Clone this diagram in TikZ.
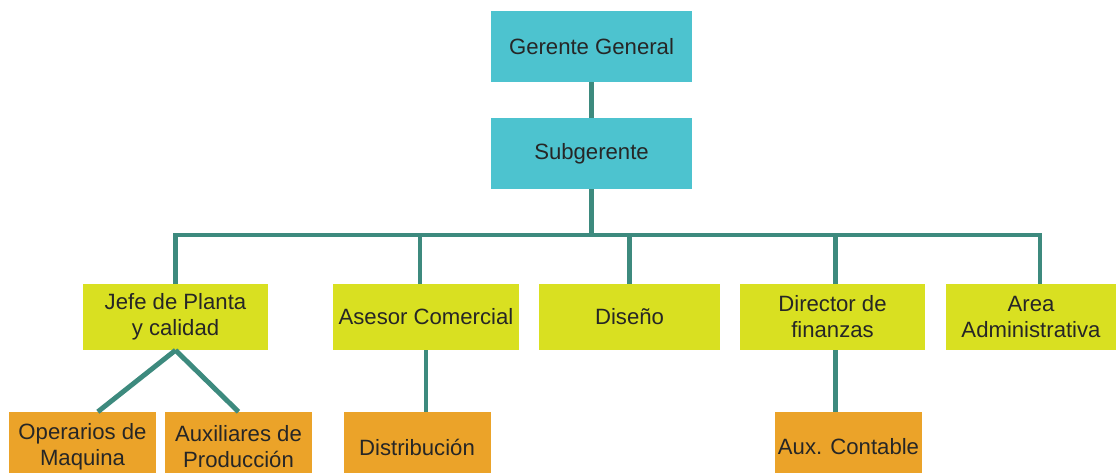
\documentclass[tikz,border=0pt]{standalone}
\usepackage{fontspec}
\setmainfont{Liberation Sans}
\usetikzlibrary{calc}
\definecolor{cyanbox}{HTML}{4DC3CF}
\definecolor{limebox}{HTML}{D9E021}
\definecolor{orangebox}{HTML}{EBA329}
\definecolor{linkcol}{HTML}{3D8A7E}

\begin{document}
\begin{tikzpicture}[x=0.03cm, y=-0.03cm,
    box/.style={shape=rectangle, inner sep=0pt, align=center, text=black!85,
        font=\fontsize{18.9}{22.2}\selectfont},
    top/.style={box, fill=cyanbox, minimum width=6.03cm, minimum height=2.13cm},
    mid/.style={box, fill=limebox, minimum height=1.98cm},
    low/.style={box, fill=orangebox, minimum width=4.41cm, minimum height=2.1cm},
    link/.style={draw=linkcol, line width=4.2pt}]
    \useasboundingbox[fill=white] (0,0) rectangle (1117,472);

    \node[top] (gg) at (591.5,46.5) {Gerente General};
    \node[top] (sub) at (591.5,153.5) {Subgerente};

    \node[mid, minimum width=5.55cm] (jefe) at (175.5,317) {Jefe de Planta\\y calidad};
    \node[mid, minimum width=5.58cm] (asesor) at (426,317) {Asesor Comercial};
    \node[mid, minimum width=5.43cm] (diseno) at (629.5,317) {Diseño};
    \node[mid, minimum width=5.55cm] (director) at (832.5,317) {Director de\\finanzas};
    \node[mid, minimum width=5.1cm] (area) at (1031,317) {Area\\Administrativa};

    \node[low] (oper) at (82.5,447) {Operarios de\\Maquina};
    \node[low] (auxp) at (238.5,447) {Auxiliares de\\Producción};
    \node[low] (distr) at (417,447) {Distribución};
    \node[low] (auxc) at (848.5,447) {Aux. Contable};

    \coordinate (busR) at (1040,235);

    % tree lines
    \path[link] (gg) edge (sub);
    \draw[link] (sub.south) -- (sub.south |- busR);
    \draw[link] (jefe.north) |- (busR) -- (busR |- area.north);
    \draw[link] ([xshift=-0.18cm]asesor.north) -- ([xshift=-0.18cm]asesor.north |- busR);
    \draw[link] (diseno.north) -- (diseno.north |- busR);
    \draw[link] ([xshift=0.08cm]director.north) -- ([xshift=0.08cm]director.north |- busR);

    \draw[link] (jefe.south) -- ([xshift=0.46cm]oper.north);
    \draw[link] (jefe.south) -- (auxp.north);
    \draw[link] (asesor.south) -- (asesor.south |- distr.north);
    \draw[link] ([xshift=0.08cm]director.south) -- ([xshift=0.08cm]director.south |- auxc.north);
\end{tikzpicture}
\end{document}
